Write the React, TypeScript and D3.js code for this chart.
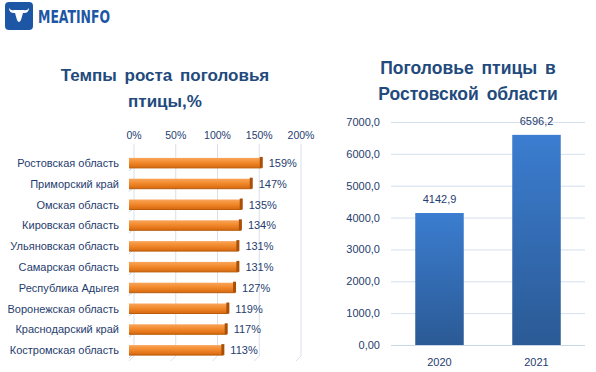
import { useEffect, useRef } from 'react';
import * as d3 from 'd3';

const regions = [
  'Ростовская область',
  'Приморский край',
  'Омская область',
  'Кировская область',
  'Ульяновская область',
  'Самарская область',
  'Республика Адыгея',
  'Воронежская область',
  'Краснодарский край',
  'Костромская область',
];
const growth = [159, 147, 135, 134, 131, 131, 127, 119, 117, 113];
const growthTicks = [0, 50, 100, 150, 200];

const years = ['2020', '2021'];
const livestock = [4142.9, 6596.2];
const livestockTicks = [0, 1000, 2000, 3000, 4000, 5000, 6000, 7000];

const W = 596;
const H = 372;
const textColor = '#1f3d6e';
const titleColor = '#234a7c';
const font = '"Liberation Sans", Arial, sans-serif';

const fmtComma = (v: number, digits: number) => v.toFixed(digits).replace('.', ',');

export default function App() {
  const svgRef = useRef<SVGSVGElement>(null);

  useEffect(() => {
    if (!svgRef.current) return;
    const svg = d3.select(svgRef.current);
    svg.selectAll('*').remove();

    const defs = svg.append('defs');
    const og = defs.append('linearGradient').attr('id', 'orangeGrad').attr('x1', 0).attr('x2', 0).attr('y1', 0).attr('y2', 1);
    og.append('stop').attr('offset', '0%').attr('stop-color', '#f9a55a');
    og.append('stop').attr('offset', '45%').attr('stop-color', '#f28a2c');
    og.append('stop').attr('offset', '100%').attr('stop-color', '#d8680f');
    const bg = defs.append('linearGradient').attr('id', 'blueGrad').attr('x1', 0).attr('x2', 0).attr('y1', 0).attr('y2', 1);
    bg.append('stop').attr('offset', '0%').attr('stop-color', '#3b7dd0');
    bg.append('stop').attr('offset', '100%').attr('stop-color', '#2b5a95');

    // логотип
    const logo = svg.append('g');
    logo.append('rect').attr('x', 5).attr('y', 2).attr('width', 28).attr('height', 28).attr('rx', 4).attr('fill', '#1d56a5');
    logo
      .append('path')
      .attr(
        'd',
        'M9,8 Q9,13 14,13 L15,13 L17,20 Q19,24 21,20 L23,13 L24,13 Q29,13 29,8 Q27,11 24,10 L14,10 Q11,11 9,8 Z'
      )
      .attr('fill', '#ffffff');
    logo
      .append('text')
      .attr('x', 38)
      .attr('y', 23)
      .attr('font-family', '"DejaVu Sans Condensed", "DejaVu Sans", sans-serif')
      .attr('font-weight', 'bold')
      .attr('font-size', 17)
      .attr('textLength', 72)
      .attr('lengthAdjust', 'spacingAndGlyphs')
      .attr('fill', '#1d56a5')
      .text('MEATINFO');

    // ---- левая диаграмма ----
    const left = svg.append('g');
    left
      .append('text')
      .attr('x', 165)
      .attr('y', 81)
      .attr('text-anchor', 'middle')
      .attr('font-family', font)
      .attr('font-weight', 'bold')
      .attr('font-size', 17)
      .attr('word-spacing', 3)
      .attr('fill', titleColor)
      .text('Темпы роста поголовья');
    left
      .append('text')
      .attr('x', 165)
      .attr('y', 107)
      .attr('text-anchor', 'middle')
      .attr('font-family', font)
      .attr('font-weight', 'bold')
      .attr('font-size', 17)
      .attr('fill', titleColor)
      .text('птицы,%');

    const x = d3.scaleLinear().domain([0, 200]).range([129, 296]);
    const y = d3.scaleBand().domain(regions).range([152.5, 360.5]).paddingInner(0.52).paddingOuter(0.26);
    const gridOff = 5;

    left
      .selectAll('line.grid')
      .data(growthTicks)
      .join('line')
      .attr('class', 'grid')
      .attr('x1', (d) => x(d) + gridOff)
      .attr('x2', (d) => x(d) + gridOff)
      .attr('y1', 144)
      .attr('y2', 356)
      .attr('stroke', '#d9dfe8')
      .attr('stroke-width', 1);
    left
      .selectAll('line.floor')
      .data(growthTicks)
      .join('line')
      .attr('class', 'floor')
      .attr('x1', (d) => x(d) + gridOff)
      .attr('x2', (d) => x(d))
      .attr('y1', 356)
      .attr('y2', 361)
      .attr('stroke', '#d9dfe8');
    // 3D ось
    left
      .selectAll('path.wall')
      .data(regions)
      .join('path')
      .attr('class', 'wall')
      .attr('d', (d) => {
        const yy = (y(d) as number) + y.bandwidth() + 3;
        return `M${x(0) + gridOff},${yy - 5} L${x(0)},${yy}`;
      })
      .attr('stroke', '#c9ced6')
      .attr('fill', 'none');

    left
      .selectAll('text.xtick')
      .data(growthTicks)
      .join('text')
      .attr('class', 'xtick')
      .attr('x', (d) => x(d) + gridOff)
      .attr('y', 139)
      .attr('text-anchor', 'middle')
      .attr('font-family', font)
      .attr('font-size', 10.5)
      .attr('fill', textColor)
      .text((d) => `${d}%`);

    const bars = left.selectAll('g.bar').data(regions).join('g').attr('class', 'bar');
    bars
      .append('rect')
      .attr('x', x(0))
      .attr('y', (d) => y(d) as number)
      .attr('width', (d, i) => x(growth[i]) - x(0))
      .attr('height', y.bandwidth())
      .attr('fill', 'url(#orangeGrad)');
    bars
      .append('rect')
      .attr('x', (d, i) => x(growth[i]) - 2)
      .attr('y', (d) => (y(d) as number) - 1)
      .attr('width', 3)
      .attr('height', y.bandwidth() + 1)
      .attr('fill', '#a94f08');
    bars
      .append('line')
      .attr('x1', x(0))
      .attr('x2', (d, i) => x(growth[i]))
      .attr('y1', (d) => (y(d) as number) + y.bandwidth())
      .attr('y2', (d) => (y(d) as number) + y.bandwidth())
      .attr('stroke', '#b85c0c')
      .attr('stroke-width', 1);
    bars
      .append('text')
      .attr('x', (d, i) => x(growth[i]) + 7)
      .attr('y', (d) => (y(d) as number) + y.bandwidth() / 2 + 4)
      .attr('font-family', font)
      .attr('font-size', 11)
      .attr('fill', textColor)
      .text((d, i) => `${growth[i]}%`);

    left
      .selectAll('text.cat')
      .data(regions)
      .join('text')
      .attr('class', 'cat')
      .attr('x', 119)
      .attr('y', (d) => (y(d) as number) + y.bandwidth() / 2 + 4)
      .attr('text-anchor', 'end')
      .attr('font-family', font)
      .attr('font-size', 11)
      .attr('fill', textColor)
      .text((d) => d);

    // ---- правая диаграмма ----
    const right = svg.append('g');
    right
      .append('text')
      .attr('x', 468)
      .attr('y', 74)
      .attr('text-anchor', 'middle')
      .attr('font-family', font)
      .attr('font-weight', 'bold')
      .attr('font-size', 17.5)
      .attr('word-spacing', 3)
      .attr('fill', titleColor)
      .text('Поголовье птицы в');
    right
      .append('text')
      .attr('x', 468)
      .attr('y', 100)
      .attr('text-anchor', 'middle')
      .attr('font-family', font)
      .attr('font-weight', 'bold')
      .attr('font-size', 17.5)
      .attr('word-spacing', 3)
      .attr('fill', titleColor)
      .text('Ростовской области');

    const yv = d3.scaleLinear().domain([0, 7000]).range([345, 122]);
    const xb = d3.scaleBand().domain(years).range([391, 585]).paddingInner(0.5).paddingOuter(0.25);

    right
      .selectAll('line.grid')
      .data(livestockTicks)
      .join('line')
      .attr('class', 'grid')
      .attr('x1', 391)
      .attr('x2', 585)
      .attr('y1', (d) => yv(d) + 0.5)
      .attr('y2', (d) => yv(d) + 0.5)
      .attr('stroke', (d) => (d === 0 ? '#c9d6e6' : '#d4e0ee'));
    right
      .selectAll('text.ytick')
      .data(livestockTicks)
      .join('text')
      .attr('class', 'ytick')
      .attr('x', 380)
      .attr('y', (d) => yv(d) + 4)
      .attr('text-anchor', 'end')
      .attr('font-family', font)
      .attr('font-size', 11)
      .attr('fill', textColor)
      .text((d) => (d === 0 ? '0,00' : fmtComma(d, 1)));

    right
      .selectAll('rect.col')
      .data(years)
      .join('rect')
      .attr('class', 'col')
      .attr('x', (d) => xb(d) as number)
      .attr('y', (d, i) => yv(livestock[i]))
      .attr('width', xb.bandwidth())
      .attr('height', (d, i) => yv(0) - yv(livestock[i]))
      .attr('fill', 'url(#blueGrad)');
    right
      .selectAll('text.val')
      .data(years)
      .join('text')
      .attr('class', 'val')
      .attr('x', (d) => (xb(d) as number) + xb.bandwidth() / 2)
      .attr('y', (d, i) => yv(livestock[i]) - 10)
      .attr('text-anchor', 'middle')
      .attr('font-family', font)
      .attr('font-size', 11)
      .attr('fill', textColor)
      .text((d, i) => fmtComma(livestock[i], 1));
    right
      .selectAll('text.xcat')
      .data(years)
      .join('text')
      .attr('class', 'xcat')
      .attr('x', (d) => (xb(d) as number) + xb.bandwidth() / 2)
      .attr('y', 366)
      .attr('text-anchor', 'middle')
      .attr('font-family', font)
      .attr('font-size', 11)
      .attr('fill', textColor)
      .text((d) => d);
  }, []);

  return (
    <svg
      ref={svgRef}
      width={W}
      height={H}
      style={{ position: 'absolute', left: 0, top: 0, background: '#ffffff' }}
    />
  );
}
